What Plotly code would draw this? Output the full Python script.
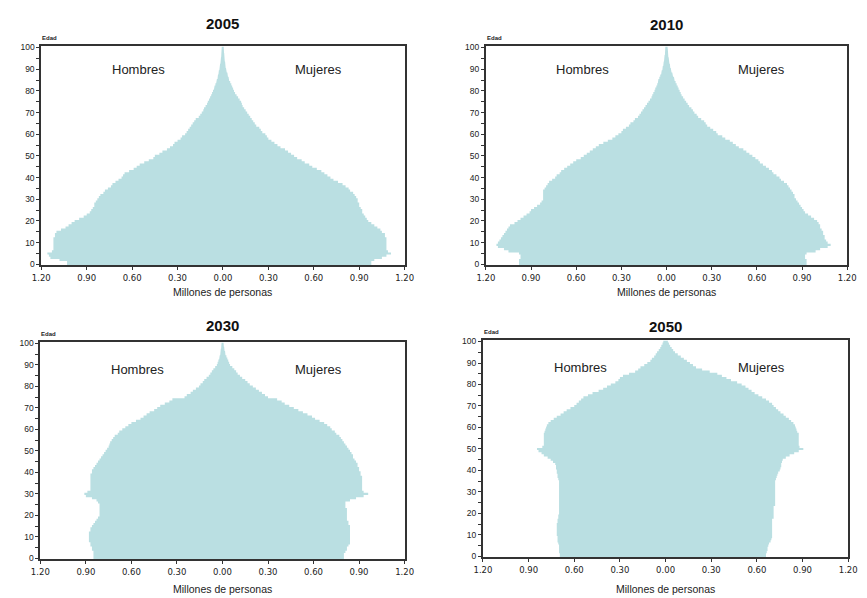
import plotly.graph_objects as go

# Ages 0..100 (single years)
edades = list(range(0, 101))

# Population by single year of age, millions of people
hombres_2005 = [
    1.03, 1.03, 1.08, 1.14, 1.15, 1.16, 1.13, 1.12, 1.12, 1.12,
    1.12, 1.12, 1.12, 1.11, 1.11, 1.10, 1.07, 1.04, 1.02, 1.00,
    0.98, 0.95, 0.92, 0.90, 0.88, 0.87, 0.86, 0.85, 0.85, 0.84,
    0.83, 0.82, 0.81, 0.79, 0.78, 0.76, 0.74, 0.73, 0.71, 0.69,
    0.67, 0.66, 0.65, 0.62, 0.59, 0.57, 0.55, 0.52, 0.49, 0.46,
    0.45, 0.42, 0.40, 0.37, 0.35, 0.33, 0.32, 0.30, 0.28, 0.27,
    0.25, 0.24, 0.23, 0.22, 0.21, 0.20, 0.19, 0.18, 0.16, 0.15,
    0.14, 0.13, 0.125, 0.115, 0.105, 0.10, 0.092, 0.085, 0.078, 0.072,
    0.066, 0.060, 0.055, 0.050, 0.045, 0.040, 0.036, 0.033, 0.030, 0.027,
    0.024, 0.021, 0.019, 0.017, 0.015, 0.013, 0.012, 0.011, 0.010, 0.009,
    0.008,
]
mujeres_2005 = [
    0.98, 0.98, 1.00, 1.05, 1.08, 1.11, 1.09, 1.08, 1.08, 1.08,
    1.08, 1.08, 1.08, 1.07, 1.07, 1.05, 1.04, 1.02, 1.00, 0.98,
    0.96, 0.95, 0.94, 0.93, 0.92, 0.92, 0.91, 0.90, 0.90, 0.89,
    0.89, 0.88, 0.87, 0.86, 0.84, 0.83, 0.81, 0.79, 0.76, 0.73,
    0.71, 0.69, 0.67, 0.65, 0.62, 0.59, 0.57, 0.54, 0.52, 0.49,
    0.47, 0.45, 0.43, 0.41, 0.38, 0.36, 0.34, 0.32, 0.30, 0.29,
    0.28, 0.26, 0.25, 0.24, 0.22, 0.21, 0.20, 0.19, 0.18, 0.17,
    0.16, 0.15, 0.14, 0.13, 0.125, 0.12, 0.11, 0.10, 0.09, 0.08,
    0.073, 0.067, 0.061, 0.055, 0.048, 0.041, 0.037, 0.033, 0.029, 0.025,
    0.020, 0.018, 0.016, 0.014, 0.012, 0.010, 0.009, 0.008, 0.007, 0.006,
    0.005,
]

hombres_2010 = [
    0.98, 0.98, 0.98, 0.97, 0.97, 0.98, 1.05, 1.08, 1.12, 1.13,
    1.12, 1.11, 1.10, 1.09, 1.08, 1.07, 1.06, 1.05, 1.04, 1.01,
    0.99, 0.97, 0.95, 0.93, 0.91, 0.90, 0.88, 0.86, 0.84, 0.83,
    0.82, 0.82, 0.82, 0.82, 0.82, 0.81, 0.80, 0.79, 0.78, 0.76,
    0.74, 0.73, 0.71, 0.70, 0.68, 0.66, 0.64, 0.62, 0.60, 0.57,
    0.55, 0.53, 0.51, 0.49, 0.47, 0.45, 0.42, 0.39, 0.36, 0.34,
    0.32, 0.30, 0.29, 0.27, 0.25, 0.24, 0.22, 0.21, 0.19, 0.18,
    0.17, 0.16, 0.15, 0.14, 0.13, 0.12, 0.11, 0.10, 0.095, 0.088,
    0.080, 0.075, 0.068, 0.062, 0.058, 0.054, 0.048, 0.042, 0.036, 0.032,
    0.028, 0.025, 0.022, 0.019, 0.017, 0.015, 0.013, 0.011, 0.010, 0.009,
    0.008,
]
mujeres_2010 = [
    0.93, 0.93, 0.93, 0.92, 0.92, 0.93, 0.99, 1.02, 1.07, 1.09,
    1.07, 1.06, 1.05, 1.05, 1.04, 1.04, 1.03, 1.02, 1.02, 1.01,
    1.00, 0.98, 0.96, 0.94, 0.92, 0.91, 0.90, 0.89, 0.88, 0.87,
    0.86, 0.85, 0.85, 0.84, 0.83, 0.82, 0.81, 0.80, 0.78, 0.76,
    0.75, 0.73, 0.71, 0.70, 0.68, 0.66, 0.64, 0.62, 0.61, 0.59,
    0.57, 0.55, 0.53, 0.51, 0.48, 0.46, 0.44, 0.42, 0.39, 0.37,
    0.34, 0.33, 0.31, 0.29, 0.27, 0.26, 0.25, 0.23, 0.21, 0.20,
    0.185, 0.175, 0.165, 0.15, 0.14, 0.13, 0.12, 0.11, 0.10, 0.094,
    0.087, 0.080, 0.074, 0.067, 0.060, 0.054, 0.049, 0.043, 0.038, 0.033,
    0.028, 0.025, 0.022, 0.019, 0.016, 0.014, 0.012, 0.010, 0.009, 0.008,
    0.007,
]

hombres_2030 = [
    0.85, 0.85, 0.85, 0.85, 0.86, 0.86, 0.87, 0.87, 0.88, 0.88,
    0.88, 0.88, 0.88, 0.87, 0.87, 0.86, 0.85, 0.84, 0.83, 0.82,
    0.81, 0.81, 0.81, 0.81, 0.81, 0.81, 0.82, 0.83, 0.86, 0.90,
    0.91, 0.89, 0.87, 0.87, 0.87, 0.87, 0.87, 0.87, 0.87, 0.87,
    0.86, 0.86, 0.85, 0.84, 0.83, 0.82, 0.81, 0.80, 0.79, 0.78,
    0.77, 0.76, 0.75, 0.745, 0.74, 0.73, 0.72, 0.71, 0.69, 0.68,
    0.66, 0.64, 0.62, 0.60, 0.57, 0.54, 0.52, 0.50, 0.48, 0.45,
    0.43, 0.41, 0.38, 0.35, 0.33, 0.25, 0.235, 0.21, 0.195, 0.175,
    0.155, 0.145, 0.13, 0.12, 0.105, 0.09, 0.08, 0.07, 0.06, 0.048,
    0.037, 0.032, 0.027, 0.022, 0.018, 0.015, 0.013, 0.011, 0.009, 0.007,
    0.006,
]
mujeres_2030 = [
    0.80, 0.80, 0.80, 0.81, 0.82, 0.82, 0.83, 0.84, 0.845, 0.845,
    0.845, 0.845, 0.845, 0.845, 0.84, 0.84, 0.83, 0.83, 0.82, 0.82,
    0.82, 0.82, 0.82, 0.82, 0.81, 0.81, 0.81, 0.84, 0.88, 0.93,
    0.96, 0.93, 0.92, 0.92, 0.92, 0.92, 0.92, 0.92, 0.92, 0.91,
    0.91, 0.90, 0.90, 0.89, 0.89, 0.88, 0.87, 0.86, 0.86, 0.85,
    0.84, 0.83, 0.82, 0.81, 0.80, 0.79, 0.78, 0.77, 0.75, 0.74,
    0.72, 0.71, 0.69, 0.67, 0.64, 0.61, 0.59, 0.56, 0.53, 0.50,
    0.47, 0.44, 0.41, 0.39, 0.36, 0.30, 0.28, 0.26, 0.24, 0.22,
    0.20, 0.18, 0.165, 0.15, 0.13, 0.115, 0.10, 0.09, 0.078, 0.065,
    0.050, 0.044, 0.038, 0.032, 0.026, 0.020, 0.017, 0.014, 0.011, 0.009,
    0.007,
]

hombres_2050 = [
    0.695, 0.695, 0.70, 0.70, 0.70, 0.70, 0.705, 0.71, 0.71, 0.71,
    0.715, 0.715, 0.715, 0.715, 0.715, 0.715, 0.71, 0.71, 0.705, 0.705,
    0.70, 0.70, 0.70, 0.70, 0.70, 0.70, 0.70, 0.70, 0.70, 0.70,
    0.70, 0.70, 0.70, 0.70, 0.70, 0.70, 0.705, 0.71, 0.71, 0.715,
    0.715, 0.72, 0.72, 0.725, 0.74, 0.755, 0.775, 0.80, 0.815, 0.835,
    0.845, 0.81, 0.80, 0.80, 0.80, 0.80, 0.80, 0.80, 0.795, 0.79,
    0.785, 0.78, 0.77, 0.755, 0.735, 0.715, 0.69, 0.67, 0.65, 0.625,
    0.60, 0.585, 0.57, 0.555, 0.54, 0.51, 0.48, 0.44, 0.41, 0.385,
    0.36, 0.33, 0.31, 0.30, 0.28, 0.24, 0.20, 0.18, 0.165, 0.14,
    0.12, 0.10, 0.09, 0.075, 0.065, 0.056, 0.045, 0.035, 0.028, 0.020,
    0.015,
]
mujeres_2050 = [
    0.66, 0.66, 0.665, 0.67, 0.67, 0.675, 0.68, 0.69, 0.695, 0.70,
    0.70, 0.70, 0.70, 0.70, 0.70, 0.70, 0.70, 0.70, 0.71, 0.71,
    0.71, 0.71, 0.71, 0.71, 0.72, 0.72, 0.72, 0.72, 0.72, 0.72,
    0.72, 0.72, 0.72, 0.72, 0.72, 0.72, 0.725, 0.73, 0.735, 0.74,
    0.75, 0.755, 0.76, 0.76, 0.765, 0.77, 0.79, 0.815, 0.845, 0.875,
    0.905, 0.88, 0.875, 0.875, 0.875, 0.875, 0.875, 0.875, 0.865, 0.86,
    0.855, 0.85, 0.84, 0.825, 0.81, 0.79, 0.775, 0.755, 0.74, 0.725,
    0.71, 0.70, 0.68, 0.66, 0.635, 0.61, 0.585, 0.565, 0.545, 0.525,
    0.50, 0.47, 0.43, 0.40, 0.37, 0.34, 0.29, 0.24, 0.20, 0.18,
    0.16, 0.14, 0.12, 0.10, 0.08, 0.062, 0.05, 0.04, 0.03, 0.022,
    0.015,
]

anios = ["2005", "2010", "2030", "2050"]
hombres = [hombres_2005, hombres_2010, hombres_2030, hombres_2050]
mujeres = [mujeres_2005, mujeres_2010, mujeres_2030, mujeres_2050]

x_tickvals = [-1.2, -0.9, -0.6, -0.3, 0.0, 0.3, 0.6, 0.9, 1.2]
x_ticktext = ["1.20", "0.90", "0.60", "0.30", "0.00", "0.30", "0.60", "0.90", "1.20"]
y_tickvals = list(range(0, 101, 5))
y_ticktext = [str(v) if v % 10 == 0 else "" for v in y_tickvals]

W, H = 867, 598
FILL = "#badfe2"
INK = "#222222"
FONT = "Liberation Sans"
TICKFONT_X = "DejaVu Sans"

# Plot-area boxes in pixels: (left, right, top, bottom)
boxes = [
    (33, 404, 43, 265),
    (487, 856, 43, 265),
    (32, 404, 343, 563),
    (484, 857, 341, 561),
]
# Pixel rows for title / axis title, and age at which sex labels sit
title_y = [20, 21, 326, 327]
xtitle_y = [292, 292, 593, 593]
label_age = [90, 90, 88, 88]


def px(x):
    return x / W


def py(y):
    return 1 - y / H


def pyramid_outline(men, women):
    """Closed stepped outline of a population pyramid: each single-year bar
    spans [age - 0.5, age + 0.5]; women run up the right side, men come back
    down the left side as negative values, giving one seamless area."""
    xs, ys = [], []
    for age, v in zip(edades, women):
        xs += [v, v]
        ys += [age - 0.5, age + 0.5]
    for age, v in zip(reversed(edades), reversed(men)):
        xs += [-v, -v]
        ys += [age + 0.5, age - 0.5]
    xs.append(xs[0])
    ys.append(ys[0])
    return xs, ys


fig = go.Figure()
layout = dict(
    width=W, height=H,
    margin=dict(l=0, r=0, t=0, b=0),
    paper_bgcolor="white", plot_bgcolor="white",
    showlegend=False,
    font=dict(family=FONT, color=INK),
)
annotations = []

for i, anio in enumerate(anios):
    n = "" if i == 0 else str(i + 1)
    xa, ya = "x" + n, "y" + n
    left, right, top, bottom = boxes[i]

    xs, ys = pyramid_outline(hombres[i], mujeres[i])
    fig.add_trace(go.Scatter(
        x=xs, y=ys, mode="lines", line=dict(width=0, color=FILL),
        fill="toself", fillcolor=FILL, hoverinfo="skip",
        xaxis=xa, yaxis=ya, name="Población " + anio,
    ))

    layout["xaxis" + n] = dict(
        domain=[px(left), px(right)], anchor=ya, range=[-1.2, 1.2],
        tickvals=x_tickvals, ticktext=x_ticktext,
        ticks="outside", ticklen=3, tickwidth=1, tickcolor="#333",
        tickfont=dict(size=8.5, color=INK, family=TICKFONT_X),
        showline=True, mirror=True, linecolor="#333", linewidth=2,
        showgrid=False, zeroline=False, fixedrange=True,
    )
    layout["yaxis" + n] = dict(
        domain=[py(bottom), py(top)], anchor=xa, range=[-0.5, 100.5],
        tickvals=y_tickvals, ticktext=y_ticktext,
        ticks="outside", ticklen=3, tickwidth=1, tickcolor="#333",
        tickfont=dict(size=8.5, color=INK, family=FONT),
        showline=True, mirror=True, linecolor="#333", linewidth=2,
        showgrid=False, zeroline=False, fixedrange=True,
    )

    cx = (left + right) / 2
    annotations += [
        dict(text="<b>" + anio + "</b>", x=px(cx), y=py(title_y[i]),
             xref="paper", yref="paper", showarrow=False,
             xanchor="center", yanchor="middle",
             font=dict(size=15, color="#111", family=FONT)),
        dict(text="Millones de personas", x=px(cx), y=py(xtitle_y[i]),
             xref="paper", yref="paper", showarrow=False,
             xanchor="center", yanchor="middle",
             font=dict(size=10.5, color=INK, family=FONT)),
        dict(text="<b>Edad</b>", x=px(left - 1), y=py(top - 3),
             xref="paper", yref="paper", showarrow=False,
             xanchor="left", yanchor="bottom",
             font=dict(size=6, color=INK, family=FONT)),
        dict(text="Hombres", x=-0.56, y=label_age[i], xref=xa, yref=ya,
             showarrow=False, xanchor="center", yanchor="middle",
             font=dict(size=13, color=INK, family=FONT)),
        dict(text="Mujeres", x=0.63, y=label_age[i], xref=xa, yref=ya,
             showarrow=False, xanchor="center", yanchor="middle",
             font=dict(size=13, color=INK, family=FONT)),
    ]

layout["annotations"] = annotations
fig.update_layout(**layout)
fig.write_html("out.html")
